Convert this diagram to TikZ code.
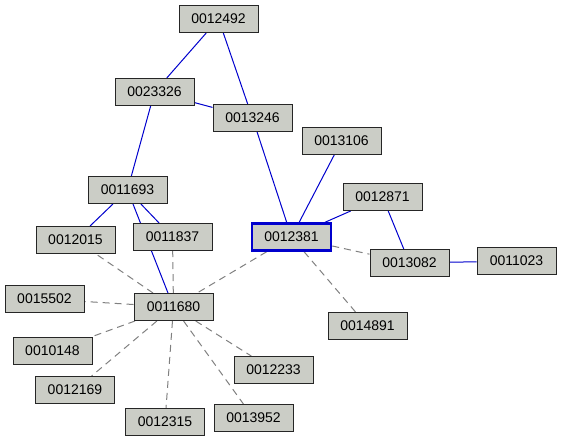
\documentclass[tikz,border=0pt]{standalone}
\usepackage{fontspec}
\setmainfont{Liberation Sans}
\usetikzlibrary{backgrounds}
\definecolor{boxfill}{RGB}{203,205,198}
\definecolor{edgeblue}{RGB}{0,0,205}
\definecolor{edgegray}{RGB}{128,128,128}
\begin{document}
\begin{tikzpicture}[x=1pt,y=-1pt,
  nd/.style={draw=black!85,line width=1pt,fill=boxfill,minimum width=79pt,minimum height=27pt,inner sep=0pt,font=\fontsize{14}{16}\selectfont},
  sel/.style={nd,draw=edgeblue,line width=2.5pt},
  strong/.style={draw=edgeblue,line width=1pt},
  weak/.style={draw=edgegray,line width=1pt,dash pattern=on 7pt off 5pt}]
\useasboundingbox (0,0) rectangle (561,442);
\node[nd] (a12492) at (218.5,19) {0012492};
\node[nd] (a23326) at (154.5,92) {0023326};
\node[nd] (a13246) at (252.5,118) {0013246};
\node[nd] (a13106) at (341.5,141) {0013106};
\node[nd] (a11693) at (127.5,190) {0011693};
\node[nd] (a12015) at (75.5,240) {0012015};
\node[nd] (a11837) at (172.5,237) {0011837};
\node[sel] (a12381) at (291.5,237) {0012381};
\node[nd] (a12871) at (382.5,197) {0012871};
\node[nd] (a13082) at (409.5,263) {0013082};
\node[nd] (a11023) at (516.5,261) {0011023};
\node[nd] (a14891) at (367.5,326) {0014891};
\node[nd] (a15502) at (44.5,299) {0015502};
\node[nd] (a11680) at (173.5,307) {0011680};
\node[nd] (a10148) at (52.5,351) {0010148};
\node[nd] (a12169) at (75,390) {0012169};
\node[nd] (a12315) at (165,422) {0012315};
\node[nd] (a13952) at (253.5,418) {0013952};
\node[nd] (a12233) at (273.5,370) {0012233};
\begin{scope}[on background layer]
\draw[strong] (a12492) -- (a23326);
\draw[strong] (a12492) -- (a13246);
\draw[strong] (a23326) -- (a13246);
\draw[strong] (a23326) -- (a11693);
\draw[strong] (a13246) -- (a12381);
\draw[strong] (a13106) -- (a12381);
\draw[strong] (a12871) -- (a12381);
\draw[strong] (a12871) -- (a13082);
\draw[strong] (a13082) -- (a11023);
\draw[strong] (a11693) -- (a12015);
\draw[strong] (a11693) -- (a11837);
\draw[strong] (a11693.center) -- (a11680.center);
\draw[weak] (a12381) -- (a11680);
\draw[weak] (a12381) -- (a13082);
\draw[weak] (a12381) -- (a14891);
\draw[weak] (a11680) -- (a12015);
\draw[weak] (a11680) -- (a11837);
\draw[weak] (a11680) -- (a15502);
\draw[weak] (a11680) -- (a10148);
\draw[weak] (a11680) -- (a12169);
\draw[weak] (a11680) -- (a12315);
\draw[weak] (a11680) -- (a13952);
\draw[weak] (a11680) -- (a12233);
\end{scope}
\end{tikzpicture}
\end{document}
